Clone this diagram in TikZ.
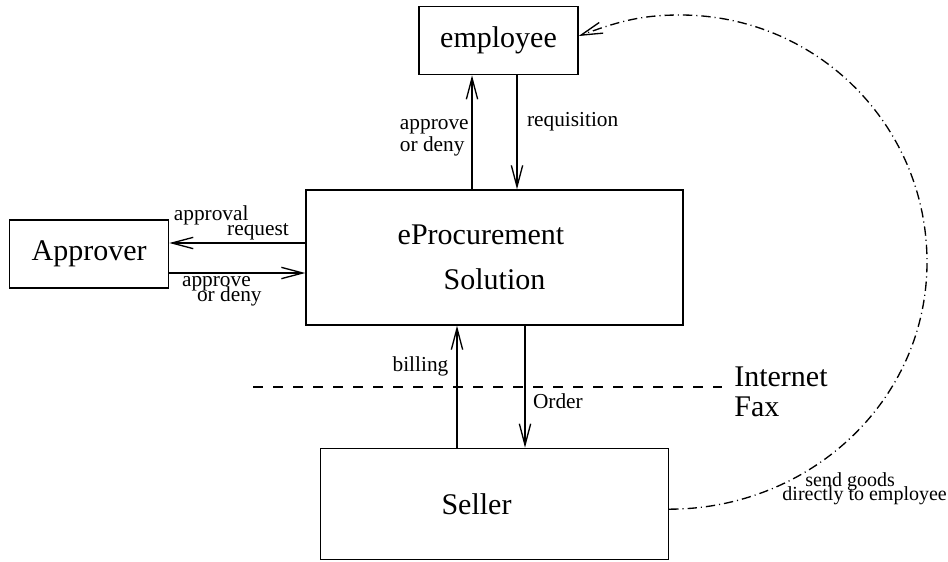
\documentclass[tikz,border=0pt]{standalone}
\usepackage{fontspec}
\setmainfont{Liberation Serif}
\usetikzlibrary{arrows.meta, positioning}

\begin{document}
\begin{tikzpicture}[
    x=0.75pt, y=-0.75pt,
    box/.style={draw, line width=1pt, inner sep=0pt, align=center, font=\fontsize{22.5}{34}\selectfont},
    lbl/.style={inner sep=2pt, font=\fontsize{16}{16.5}\selectfont},
    arrow/.style={-{Straight Barb[length=16pt, width=8.5pt]}, line width=1pt},
    netline/.style={line width=1pt, dash pattern=on 7.5pt off 7.5pt},
    shipline/.style={arrow, dash pattern=on 7pt off 3pt on 0.8pt off 3pt}
]
    \useasboundingbox (0,0) rectangle (948,561);

    % central system
    \node[box, minimum width=282.75pt, minimum height=101.25pt] (procure) at (494.5,257.5) {\hspace*{-0.9em}eProcurement\\Solution};

    % parties around it
    \node[box, minimum width=119.25pt, minimum height=51pt, above=85.5pt of procure, xshift=3pt] (employee) {employee};
    \node[box, minimum width=119.25pt, minimum height=51pt, left=102pt of procure, yshift=2.6pt] (approver) {Approver};
    \node[box, minimum width=261pt, minimum height=83.25pt, below=91.5pt of procure] (seller) {\hspace*{-1.2em}Seller};

    % employee <-> system
    \draw[arrow] (procure.north -| 472,0) -- node[lbl, left, align=left, pos=0.45] {approve\\or deny} (employee.south -| 472,0);
    \draw[arrow] (employee.south -| 517,0) -- node[lbl, right, xshift=5pt, pos=0.41] {requisition} (procure.north -| 517,0);

    % approver <-> system
    \draw[arrow] (procure.west |- 0,243) -- node[lbl, above, align=left, pos=0.544, font=\fontsize{16}{16}\selectfont] {approval\\[-5pt]\hspace*{2.5em}request} (approver.east |- 0,243);
    \draw[arrow] (approver.east |- 0,273) -- node[lbl, below, align=left, pos=0.386, font=\fontsize{16}{16}\selectfont] {approve\\[-5pt]\hspace*{0.7em}or deny} (procure.west |- 0,273);

    % seller <-> system
    \draw[arrow] (seller.north -| 457,0) -- node[lbl, left, xshift=-4pt, pos=0.67] {billing} (procure.south -| 457,0);
    \draw[arrow] (procure.south -| 525,0) -- node[lbl, right, xshift=3.5pt, pos=0.615] {Order} (seller.north -| 525,0);

    % network boundary
    \coordinate (netstart) at (253,387);
    \draw[netline] (netstart) -- (722,387) node[right, inner sep=2pt, xshift=6.75pt, yshift=-3.75pt, align=left, font=\fontsize{22.5}{22.5}\selectfont] (net) {Internet\\Fax};

    % goods shipped straight to the employee
    \coordinate (rim) at (927,262);
    \coordinate (crest) at (680,15);
    \draw[shipline] ([yshift=-4pt]seller.east) to[out=0, in=-90] (rim) to[out=90, in=0] (crest) to[out=180, in=20] ([yshift=3.5pt]employee.east);
    \node[lbl, anchor=west, align=left, font=\fontsize{15}{15}\selectfont] (shipnote) at (779.5,489) {\hspace*{1.15em}send goods\\[-4.5pt]directly to employee};

\end{tikzpicture}
\end{document}
